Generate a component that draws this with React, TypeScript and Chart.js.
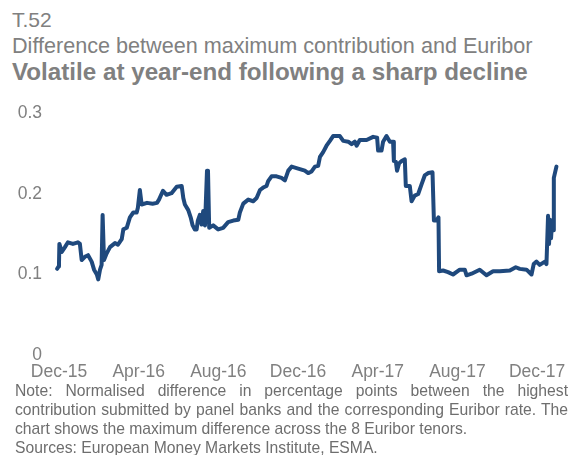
import React, { useEffect, useRef } from "react";
import { Chart, registerables } from "chart.js";

Chart.register(...registerables);

// Months elapsed since 1 Dec 2015 (x) and max contribution minus Euribor, pp (y)
const monthsFromDec15: number[] = [
  -0.09, -0.02, 0.0, 0.02, 0.14, 0.3, 0.45, 0.7, 0.95, 1.05, 1.14, 1.3, 1.46, 1.64, 1.76, 1.9, 1.97,
  2.06, 2.14, 2.19, 2.26, 2.39, 2.56, 2.81, 2.96, 3.15, 3.23, 3.4, 3.56, 3.73, 3.9, 3.96, 4.06,
  4.15, 4.42, 4.7, 4.92, 5.02, 5.22, 5.4, 5.65, 5.91, 6.16, 6.24, 6.32, 6.49, 6.61, 6.71, 6.82,
  6.91, 6.97, 7.07, 7.16, 7.24, 7.33, 7.43, 7.48, 7.54, 7.74, 7.99, 8.24, 8.49, 8.75, 9.0, 9.08,
  9.25, 9.5, 9.75, 9.92, 10.09, 10.25, 10.42, 10.5, 10.67, 10.92, 11.17, 11.34, 11.51, 11.68,
  12.09, 12.34, 12.51, 12.68, 12.85, 13.01, 13.1, 13.26, 13.43, 13.6, 13.76, 14.1, 14.27, 14.52,
  14.69, 14.85, 14.94, 15.1, 15.44, 15.77, 15.97, 16.02, 16.19, 16.27, 16.44, 16.61, 16.77,
  16.81, 16.91, 16.97, 17.07, 17.2, 17.36, 17.41, 17.61, 17.7, 17.86, 18.03, 18.2, 18.36, 18.53,
  18.75, 18.82, 18.95, 19.05, 19.08, 19.28, 19.53, 19.78, 20.12, 20.37, 20.46, 20.71, 21.12,
  21.46, 21.79, 22.13, 22.63, 22.93, 23.13, 23.47, 23.72, 23.83, 23.97, 24.13, 24.39, 24.47,
  24.55, 24.6, 24.65, 24.7, 24.75, 24.8, 24.84, 24.97,
];

const maxDiffPP: number[] = [
  0.107, 0.11, 0.113, 0.138, 0.128, 0.134, 0.14, 0.138, 0.14, 0.138, 0.118, 0.122, 0.124, 0.116, 0.106, 0.1, 0.094,
  0.106, 0.112, 0.174, 0.118, 0.126, 0.134, 0.139, 0.137, 0.144, 0.156, 0.158, 0.171, 0.177, 0.177, 0.183, 0.205,
  0.187, 0.189, 0.188, 0.189, 0.193, 0.204, 0.199, 0.201, 0.209, 0.21, 0.195, 0.187, 0.18, 0.171, 0.161, 0.156,
  0.156, 0.167, 0.174, 0.162, 0.179, 0.161, 0.229, 0.229, 0.158, 0.161, 0.156, 0.158, 0.165, 0.167, 0.168, 0.177,
  0.188, 0.193, 0.191, 0.195, 0.205, 0.208, 0.21, 0.216, 0.222, 0.222, 0.22, 0.217, 0.229, 0.234,
  0.231, 0.229, 0.226, 0.228, 0.234, 0.235, 0.246, 0.252, 0.26, 0.266, 0.272, 0.272, 0.266, 0.265,
  0.262, 0.265, 0.26, 0.267, 0.267, 0.271, 0.27, 0.254, 0.254, 0.265, 0.272, 0.265, 0.265,
  0.241, 0.24, 0.229, 0.238, 0.241, 0.243, 0.21, 0.21, 0.191, 0.198, 0.2, 0.212, 0.223, 0.226,
  0.227, 0.167, 0.167, 0.171, 0.104, 0.105, 0.103, 0.1, 0.106, 0.106, 0.099, 0.101, 0.106,
  0.099, 0.104, 0.104, 0.105, 0.109, 0.107, 0.106, 0.1, 0.113, 0.116, 0.112, 0.116, 0.113,
  0.173, 0.138, 0.168, 0.145, 0.165, 0.155, 0.22, 0.234,
];

const xTickMonths: number[] = [0, 4, 8, 12, 16, 20, 24];
const xTickLabels: string[] = ["Dec-15", "Apr-16", "Aug-16", "Dec-16", "Apr-17", "Aug-17", "Dec-17"];
const yTickValues: number[] = [0, 0.1, 0.2, 0.3];
const yTickLabels: string[] = ["0", "0.1", "0.2", "0.3"];

const FONT = "'Liberation Sans', Arial, Helvetica, sans-serif";
const GREY = "#808080";

export default function App() {
  const canvasRef = useRef<HTMLCanvasElement | null>(null);

  useEffect(() => {
    const canvas = canvasRef.current;
    if (!canvas) return;
    const points = monthsFromDec15.map((m, i) => ({ x: m, y: maxDiffPP[i] }));
    const chart = new Chart(canvas, {
      type: "line",
      data: {
        datasets: [
          {
            data: points,
            borderColor: "#1F497D",
            borderWidth: 4,
            pointRadius: 0,
            tension: 0,
            borderJoinStyle: "round",
            borderCapStyle: "round",
            fill: false,
          },
        ],
      },
      options: {
        animation: false,
        responsive: false,
        maintainAspectRatio: false,
        devicePixelRatio: 1,
        layout: { padding: { top: 19, right: 25, bottom: 0, left: 0 } },
        plugins: { legend: { display: false }, tooltip: { enabled: false }, title: { display: false } },
        scales: {
          x: {
            type: "linear",
            min: -0.2,
            max: 25.2,
            grid: { display: false, drawTicks: false },
            border: { display: false },
            afterBuildTicks: (scale: any) => {
              scale.ticks = xTickMonths.map((v) => ({ value: v }));
            },
            afterFit: (scale: any) => {
              scale.height = 35;
            },
            ticks: {
              autoSkip: false,
              maxRotation: 0,
              padding: 7,
              color: GREY,
              font: { family: FONT, size: 17.5 },
              callback: (v: any) => {
                const i = xTickMonths.indexOf(Number(v));
                return i >= 0 ? xTickLabels[i] : "";
              },
            },
          },
          y: {
            min: 0,
            max: 0.3,
            grid: { display: false, drawTicks: false },
            border: { display: false },
            afterBuildTicks: (scale: any) => {
              scale.ticks = yTickValues.map((v) => ({ value: v }));
            },
            afterFit: (scale: any) => {
              scale.width = 55;
            },
            ticks: {
              padding: 13,
              color: GREY,
              font: { family: FONT, size: 17.5 },
              callback: (v: any) => {
                const i = yTickValues.findIndex((t) => Math.abs(t - Number(v)) < 1e-9);
                return i >= 0 ? yTickLabels[i] : "";
              },
            },
          },
        },
      },
    } as any);
    return () => chart.destroy();
  }, []);

  const textBase: React.CSSProperties = {
    position: "absolute",
    left: 12,
    margin: 0,
    lineHeight: 1,
    fontFamily: FONT,
    color: GREY,
    whiteSpace: "nowrap",
  };
  const noteBase: React.CSSProperties = {
    position: "absolute",
    left: 15,
    margin: 0,
    lineHeight: 1,
    fontFamily: FONT,
    fontSize: 15.7,
    color: "#6e6e6e",
    whiteSpace: "nowrap",
  };

  return (
    <div style={{ position: "absolute", left: 0, top: 0, width: 586, height: 455, background: "#fff", overflow: "hidden" }}>
      <div style={{ ...textBase, top: 9, fontSize: 21 }}>T.52</div>
      <div style={{ ...textBase, top: 35, fontSize: 21.6 }}>Difference between maximum contribution and Euribor</div>
      <div style={{ ...textBase, top: 60, fontSize: 24.2, fontWeight: "bold" }}>Volatile at year-end following a sharp decline</div>
      <canvas ref={canvasRef} width={586} height={300} style={{ position: "absolute", left: 0, top: 90, width: 586, height: 300 }} />
      <div style={{ ...noteBase, top: 383, width: 553, textAlign: "justify", textAlignLast: "justify", whiteSpace: "normal" } as any}>
        Note: Normalised difference in percentage points between the highest
      </div>
      <div style={{ ...noteBase, top: 402, width: 553, textAlign: "justify", textAlignLast: "justify", whiteSpace: "normal" } as any}>
        contribution submitted by panel banks and the corresponding Euribor rate. The
      </div>
      <div style={{ ...noteBase, top: 421 }}>chart shows the maximum difference across the 8 Euribor tenors.</div>
      <div style={{ ...noteBase, top: 440 }}>Sources: European Money Markets Institute, ESMA.</div>
    </div>
  );
}
